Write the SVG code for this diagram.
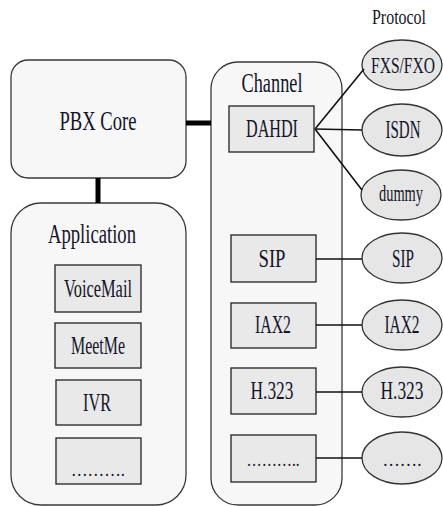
<svg xmlns="http://www.w3.org/2000/svg" width="443" height="506" viewBox="0 0 443 506">
<style>
.outer{fill:#f7f7f7;stroke:#3a3a3a;stroke-width:1.3}
.inner{fill:#e9e9e9;stroke:#222;stroke-width:1.3}
.ell{fill:#e6e6e6;stroke:#333;stroke-width:1.3}
.t{font-family:"Liberation Serif","Times New Roman",serif;fill:#141428;text-anchor:middle}
.big{font-size:27px}
.mid{font-size:25px}
.sm{font-size:21px}
.el{font-size:23px}
.dots{font-size:18px}
.thick{stroke:#000;stroke-width:5;fill:none}
.thin{stroke:#111;stroke-width:1.6;fill:none}
</style>
<rect width="443" height="506" fill="#fff"/>
<g id="pbx-core">
<rect class="outer" x="11" y="60" width="175" height="118" rx="17"/>
<text class="t big" x="98" y="130" textLength="77" lengthAdjust="spacingAndGlyphs">PBX Core</text>
</g>
<g id="application">
<rect class="outer" x="11" y="203" width="175" height="302" rx="30"/>
<text class="t big" x="92" y="243" textLength="88" lengthAdjust="spacingAndGlyphs">Application</text>
</g>
<g id="voicemail">
<rect class="inner" x="55" y="265" width="86" height="47"/>
<text class="t mid" x="98" y="297" textLength="68" lengthAdjust="spacingAndGlyphs">VoiceMail</text>
</g>
<g id="meetme">
<rect class="inner" x="55" y="323" width="86" height="45"/>
<text class="t mid" x="98" y="354" textLength="54" lengthAdjust="spacingAndGlyphs">MeetMe</text>
</g>
<g id="ivr">
<rect class="inner" x="56" y="380" width="85" height="45"/>
<text class="t mid" x="97" y="411" textLength="28" lengthAdjust="spacingAndGlyphs">IVR</text>
</g>
<g id="app-more">
<rect class="inner" x="56" y="438" width="85" height="46"/>
<text class="t dots" x="98" y="476" textLength="54" lengthAdjust="spacingAndGlyphs">……….</text>
</g>
<g id="channel">
<rect class="outer" x="211" y="62" width="131" height="443" rx="27"/>
<text class="t big" x="272" y="92" textLength="61" lengthAdjust="spacingAndGlyphs">Channel</text>
</g>
<g id="dahdi">
<rect class="inner" x="229" y="106" width="85" height="46"/>
<text class="t mid" x="272" y="137" textLength="52" lengthAdjust="spacingAndGlyphs">DAHDI</text>
</g>
<g id="ch-sip">
<rect class="inner" x="231" y="235" width="85" height="47"/>
<text class="t mid" x="272" y="267" textLength="27" lengthAdjust="spacingAndGlyphs">SIP</text>
</g>
<g id="ch-iax2">
<rect class="inner" x="231" y="303" width="85" height="45"/>
<text class="t mid" x="273" y="333" textLength="36" lengthAdjust="spacingAndGlyphs">IAX2</text>
</g>
<g id="ch-h323">
<rect class="inner" x="231" y="368" width="85" height="46"/>
<text class="t mid" x="272" y="399" textLength="43" lengthAdjust="spacingAndGlyphs">H.323</text>
</g>
<g id="ch-more">
<rect class="inner" x="231" y="435" width="85" height="47"/>
<text class="t dots" x="273" y="466" textLength="53" lengthAdjust="spacingAndGlyphs">………..</text>
</g>
<g id="protocol-label">
<text class="t sm" x="399" y="24" textLength="54" lengthAdjust="spacingAndGlyphs">Protocol</text>
</g>
<g id="fxs-fxo">
<ellipse class="ell" cx="402" cy="65" rx="40" ry="25"/>
<text class="t el" x="403" y="73" textLength="64" lengthAdjust="spacingAndGlyphs">FXS/FXO</text>
</g>
<g id="isdn">
<ellipse class="ell" cx="402" cy="130" rx="40" ry="26"/>
<text class="t mid" x="403" y="138" textLength="35" lengthAdjust="spacingAndGlyphs">ISDN</text>
</g>
<g id="dummy">
<ellipse class="ell" cx="401" cy="195" rx="40" ry="25"/>
<text class="t el" x="401" y="201" textLength="44" lengthAdjust="spacingAndGlyphs">dummy</text>
</g>
<g id="p-sip">
<ellipse class="ell" cx="402" cy="258" rx="40" ry="25"/>
<text class="t mid" x="403" y="267" textLength="22" lengthAdjust="spacingAndGlyphs">SIP</text>
</g>
<g id="p-iax2">
<ellipse class="ell" cx="402" cy="325" rx="40" ry="25"/>
<text class="t mid" x="402" y="333" textLength="35" lengthAdjust="spacingAndGlyphs">IAX2</text>
</g>
<g id="p-h323">
<ellipse class="ell" cx="402" cy="392" rx="40" ry="25"/>
<text class="t mid" x="402" y="399" textLength="43" lengthAdjust="spacingAndGlyphs">H.323</text>
</g>
<g id="p-more">
<ellipse class="ell" cx="402" cy="458" rx="40" ry="26"/>
<text class="t dots" x="402" y="466" textLength="39" lengthAdjust="spacingAndGlyphs">…….</text>
</g>
<g id="connectors">
<line class="thick" x1="186" y1="123" x2="211" y2="123"/>
<line class="thick" x1="98" y1="178" x2="98" y2="203"/>
<line class="thin" x1="315" y1="129" x2="364" y2="69"/>
<line class="thin" x1="315" y1="129" x2="362" y2="130"/>
<line class="thin" x1="315" y1="129" x2="362" y2="190"/>
<line class="thin" x1="316" y1="259" x2="362" y2="259"/>
<line class="thin" x1="316" y1="325" x2="362" y2="325"/>
<line class="thin" x1="316" y1="392" x2="362" y2="392"/>
<line class="thin" x1="316" y1="458" x2="362" y2="458"/>
</g>
</svg>
